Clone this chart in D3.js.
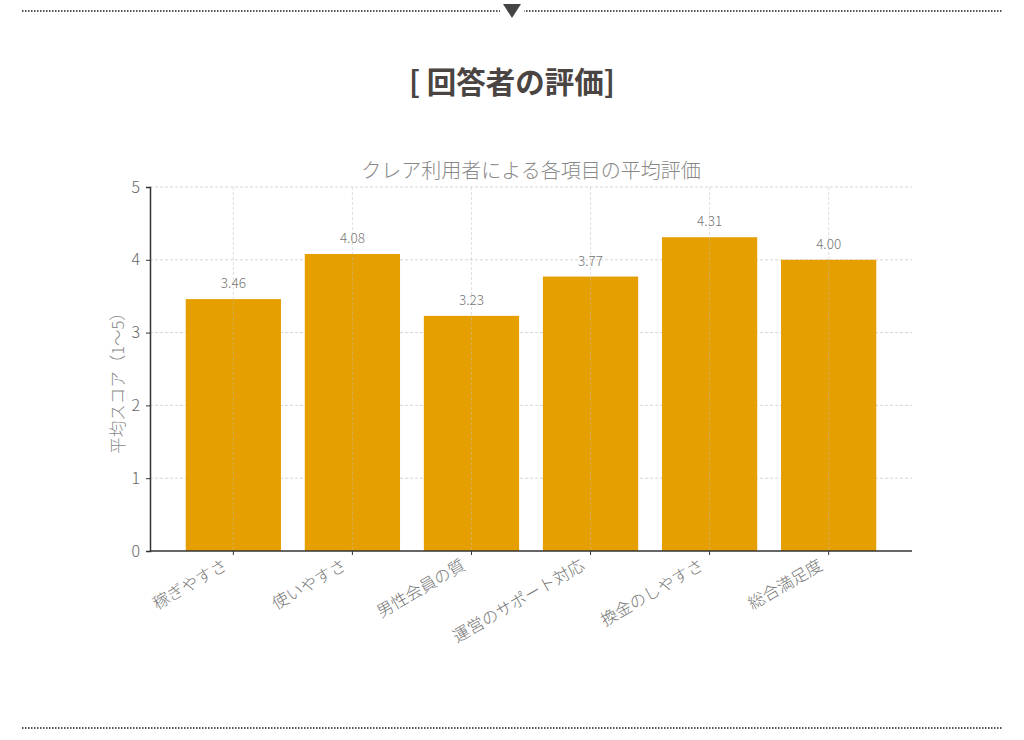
<!DOCTYPE html>
<html lang="ja">
<head>
  <meta charset="UTF-8">
  <title>回答者の評価</title>
  <script src="https://d3js.org/d3.v7.min.js"></script>
  <style>
    body { margin: 0; background: #fff; }
    svg { display: block; }
    text { font-family: "Noto Sans CJK JP", "Noto Sans", sans-serif; }
  </style>
</head>
<body>
  <svg id="container"></svg>
  <script>
    // Chart data
    const categories = ["稼ぎやすさ", "使いやすさ", "男性会員の質", "運営のサポート対応", "換金のしやすさ", "総合満足度"];
    const scores = [3.46, 4.08, 3.23, 3.77, 4.31, 4.00];
    const yTicks = [0, 1, 2, 3, 4, 5];

    const width = 1024, height = 740;
    const plot = { left: 150, right: 912, top: 187, bottom: 551 };

    const svg = d3.select("#container").attr("width", width).attr("height", height);

    // Dotted separators
    function dottedLine(y) {
      svg.append("line")
        .attr("x1", 22).attr("x2", 1002).attr("y1", y).attr("y2", y)
        .attr("stroke", "#555").attr("stroke-width", 2)
        .attr("stroke-dasharray", "1.5,1.5");
    }
    dottedLine(11);
    dottedLine(728);
    // triangle marker on top line
    svg.append("rect").attr("x", 500).attr("y", 2).attr("width", 24).attr("height", 18).attr("fill", "#fff");
    svg.append("path").attr("d", "M503,4 L521,4 L512,18 Z").attr("fill", "#444");

    // Header
    svg.append("text")
      .attr("x", 512).attr("y", 93)
      .attr("text-anchor", "middle")
      .attr("font-size", 29.5).attr("font-weight", 700)
      .attr("fill", "#4a4442")
      .text("[ 回答者の評価]");

    // Scales
    const x = d3.scaleBand().domain(categories).range([plot.left, plot.right])
      .paddingInner(0.2).paddingOuter(0.3);
    const y = d3.scaleLinear().domain([0, 5]).range([plot.bottom, plot.top]);

    // Horizontal grid
    svg.append("g").selectAll("line").data(yTicks.slice(1)).join("line")
      .attr("x1", plot.left).attr("x2", plot.right)
      .attr("y1", d => y(d)).attr("y2", d => y(d))
      .attr("stroke", "#ccc").attr("stroke-width", 0.8).attr("stroke-dasharray", "3,2");

    // Bars
    svg.append("g").selectAll("rect").data(scores).join("rect")
      .attr("x", (d, i) => x(categories[i]))
      .attr("y", d => y(d))
      .attr("width", x.bandwidth())
      .attr("height", d => y(0) - y(d))
      .attr("fill", "#e69f00");

    // Vertical grid (faintly over bars)
    svg.append("g").selectAll("line").data(categories).join("line")
      .attr("x1", d => x(d) + x.bandwidth() / 2).attr("x2", d => x(d) + x.bandwidth() / 2)
      .attr("y1", plot.top).attr("y2", plot.bottom)
      .attr("stroke", "#bbb").attr("stroke-opacity", 0.6).attr("stroke-width", 0.8)
      .attr("stroke-dasharray", "3,2");

    // Value labels
    svg.append("g").selectAll("text").data(scores).join("text")
      .attr("x", (d, i) => x(categories[i]) + x.bandwidth() / 2)
      .attr("y", d => y(d) - 11)
      .attr("text-anchor", "middle")
      .attr("font-size", 13.5).attr("font-weight", 300)
      .attr("fill", "#777")
      .text(d => d.toFixed(2));

    // Axes
    const yAxis = d3.axisLeft(y).tickValues(yTicks).tickFormat(d3.format("d")).tickSize(4).tickPadding(6);
    const gy = svg.append("g").attr("transform", `translate(${plot.left},0)`).call(yAxis);
    gy.select(".domain").attr("stroke", "#333").attr("stroke-width", 1.5);
    gy.selectAll(".tick line").attr("stroke", "#333");
    gy.selectAll(".tick text").attr("font-size", 16).attr("font-weight", 300).attr("fill", "#666")
      .style("font-family", "'Noto Sans CJK JP', sans-serif");

    const xAxis = d3.axisBottom(x).tickSize(4).tickPadding(6);
    const gx = svg.append("g").attr("transform", `translate(0,${plot.bottom})`).call(xAxis);
    gx.select(".domain").attr("stroke", "#333").attr("stroke-width", 1.5).attr("d", `M${plot.left},0H${plot.right}`);
    gx.selectAll(".tick line").attr("stroke", "#333");
    gx.selectAll(".tick text")
      .attr("font-size", 16.5).attr("font-weight", 300).attr("fill", "#777")
      .style("font-family", "'Noto Sans CJK JP', sans-serif")
      .attr("text-anchor", "end")
      .attr("y", 0)
      .attr("dy", "0.75em")
      .attr("transform", "translate(-11,7) rotate(-30)");

    // Title
    svg.append("text")
      .attr("x", (plot.left + plot.right) / 2).attr("y", 178)
      .attr("text-anchor", "middle")
      .attr("font-size", 20).attr("font-weight", 300).attr("fill", "#888")
      .text("クレア利用者による各項目の平均評価");

    // Y label
    svg.append("text")
      .attr("transform", `translate(124,${(plot.top + plot.bottom) / 2 + 10}) rotate(-90)`)
      .attr("text-anchor", "middle")
      .attr("font-size", 16.5).attr("font-weight", 300).attr("fill", "#888")
      .text("平均スコア（1〜5）");
  </script>
</body>
</html>
